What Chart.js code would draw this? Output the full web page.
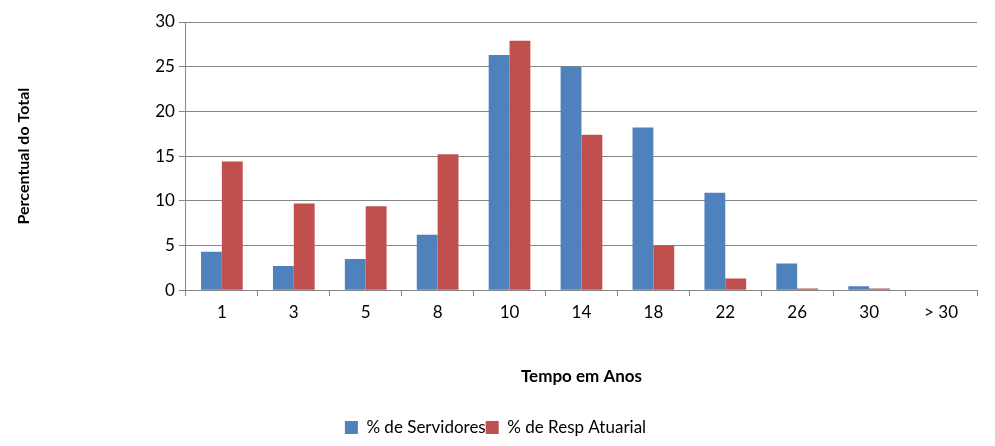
<!DOCTYPE html>
<html>
<head>
<meta charset="utf-8">
<script src="https://cdn.jsdelivr.net/npm/chart.js@4/dist/chart.umd.min.js"></script>
<style>
  html, body { margin: 0; padding: 0; background: #fff; }
  #wrap { width: 995px; height: 446px; }
</style>
</head>
<body>
<div id="wrap"><canvas id="c"></canvas></div>
<script>
const categories = ['1', '3', '5', '8', '10', '14', '18', '22', '26', '30', '> 30'];
const servidores = [4.3, 2.7, 3.5, 6.2, 26.3, 25.0, 18.2, 10.9, 3.0, 0.45, 0];
const respAtuarial = [14.4, 9.7, 9.4, 15.2, 27.9, 17.4, 5.0, 1.3, 0.2, 0.2, 0];
const yTicks = [0, 5, 10, 15, 20, 25, 30];

const font = { family: 'Lato, "Open Sans", sans-serif', size: 17 };

new Chart(document.getElementById('c'), {
  type: 'bar',
  data: {
    labels: categories,
    datasets: [
      { label: '% de Servidores', data: servidores, backgroundColor: '#4F81BD' },
      { label: '% de Resp Atuarial', data: respAtuarial, backgroundColor: '#C0504D' },
    ],
  },
  options: {
    responsive: true,
    maintainAspectRatio: false,
    animation: false,
    devicePixelRatio: 1,
    categoryPercentage: 0.58,
    barPercentage: 1,
    layout: { padding: { left: 14, right: 18, top: 22, bottom: 0 } },
    plugins: {
      tooltip: { enabled: false },
      legend: {
        position: 'bottom',
        labels: { color: '#000', font, boxWidth: 13, boxHeight: 13, padding: 0 },
      },
    },
    scales: {
      x: {
        grid: { offset: true, drawOnChartArea: false, color: '#868686', tickLength: 6 },
        border: { color: '#868686' },
        ticks: { color: '#000', font, padding: 6 },
        title: { display: true, text: 'Tempo em Anos', color: '#000', font: { ...font, weight: 'bold' }, padding: { top: 38, bottom: 32 } },
      },
      y: {
        min: 0,
        max: 30,
        afterBuildTicks: axis => { axis.ticks = yTicks.map(v => ({ value: v })); },
        grid: { color: '#868686', tickLength: 7 },
        border: { color: '#868686' },
        ticks: { color: '#000', font, padding: 4 },
        title: { display: true, text: 'Percentual do Total', color: '#000', font: { ...font, size: 16, weight: 'bold' }, padding: { top: 0, bottom: 118 } },
      },
    },
  },
});
</script>
</body>
</html>
